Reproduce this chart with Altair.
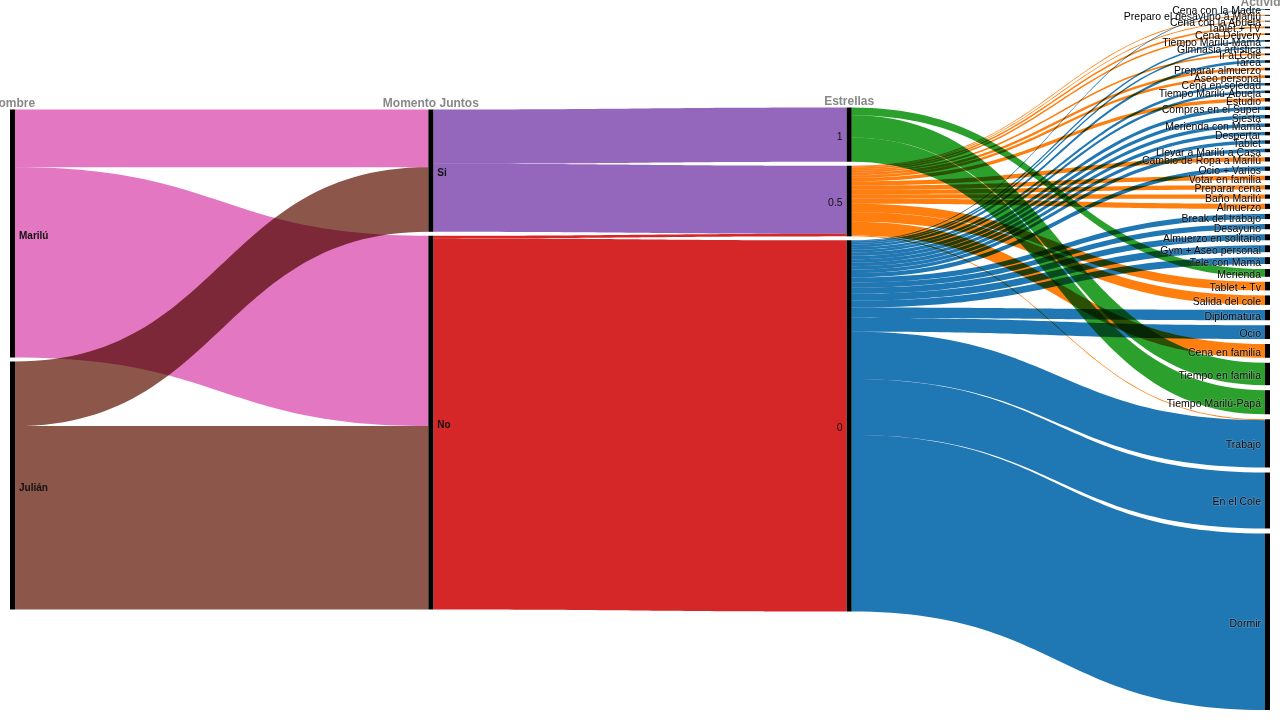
import altair as alt
import pandas as pd
import numpy as np

# ---------------- data ----------------
nombres = ["Marilú", "Julián"]
momentos = ["Si", "No"]
estrellas = ["1", "0.5", "0"]
actividades = [
    "Cena con la Madre", "Preparo el desayuno a Marilú", "Cena con la Abuela", "Tablet + TV",
    "Cena Delivery", "Tiempo Marilú-Mamá", "Gimnasia artística", "Ir al Cole", "Tarea",
    "Preparar almuerzo", "Aseo personal", "Cena en soledad", "Tiempo Marilú-Abuela", "Estudio",
    "Compras en el Super", "Siesta", "Merienda con Mamá", "Despertar", "Tablet",
    "Llevar a Marilú a Casa", "Cambio de Ropa a Marilú", "Ocio + Varios", "Votar en familia",
    "Preparar cena", "Baño Marilú", "Almuerzo", "Break del trabajo", "Desayuno",
    "Almuerzo en solitario", "Gym + Aseo personal", "Tele con Mamá", "Merienda", "Tablet + Tv",
    "Salida del cole", "Diplomatura", "Ocio", "Cena en familia", "Tiempo en familia",
    "Tiempo Marilú-Papá", "Trabajo", "En el Cole", "Dormir",
]
dimensiones = ["Nombre", "Momento Juntos", "Estrellas", "Actividad"]

# Nombre -> Momento Juntos (minutes)
l1_src = ["Marilú", "Marilú", "Julián", "Julián"]
l1_tgt = ["Si", "No", "Si", "No"]
l1_val = [335, 1105, 375, 1065]

# Momento Juntos -> Estrellas
l2_src = ["Si", "Si", "No", "No"]
l2_tgt = ["1", "0.5", "0.5", "0"]
l2_val = [315, 395, 15, 2155]

# Estrellas -> Actividad
l3_src = ["0", "0.5", "0.5", "0.5", "0.5", "0", "0", "0.5", "0", "0.5", "0.5", "0", "0", "0.5",
          "0", "0", "0", "0", "0", "0", "0.5", "0", "0.5", "0.5", "0.5", "0.5", "0", "0",
          "0", "0", "0", "1", "0.5", "0.5", "0", "0", "0.5", "1", "1", "0.5", "0", "0", "0"]
l3_tgt = [
    "Cena con la Madre", "Preparo el desayuno a Marilú", "Cena con la Abuela", "Tablet + TV",
    "Cena Delivery", "Tiempo Marilú-Mamá", "Gimnasia artística", "Ir al Cole", "Tarea",
    "Preparar almuerzo", "Aseo personal", "Cena en soledad", "Tiempo Marilú-Abuela", "Estudio",
    "Compras en el Super", "Siesta", "Merienda con Mamá", "Despertar", "Tablet",
    "Llevar a Marilú a Casa", "Cambio de Ropa a Marilú", "Ocio + Varios", "Votar en familia",
    "Preparar cena", "Baño Marilú", "Almuerzo", "Break del trabajo", "Desayuno",
    "Almuerzo en solitario", "Gym + Aseo personal", "Tele con Mamá", "Merienda", "Tablet + Tv",
    "Salida del cole", "Diplomatura", "Ocio", "Cena en familia", "Tiempo en familia",
    "Tiempo Marilú-Papá", "Trabajo", "Trabajo", "En el Cole", "Dormir",
]
l3_val = [5, 5, 5, 10, 10, 10, 10, 10, 15, 15, 15, 15, 15, 20, 20, 20, 20, 20, 20, 20, 25, 25,
          25, 25, 25, 30, 30, 30, 35, 40, 40, 45, 50, 55, 60, 80, 80, 130, 140, 5, 275, 325, 1025]

node_colors = {"Marilú": "#e377c2", "Julián": "#8c564b", "Si": "#9467bd", "No": "#d62728",
               "1": "#2ca02c", "0.5": "#ff7f0e", "0": "#1f77b4"}

# ---------------- sankey layout ----------------
W, H = 1280, 720
X_LEFT, X_RIGHT, NODE_W = 10, 1270, 5
Y_TOP, Y_BOT = 9, 710
PAD_MAIN, PAD_LAST = 4, 5

columns = [nombres, momentos, estrellas, actividades]
links = []
for s, t, v in zip(l1_src, l1_tgt, l1_val):
    links.append(dict(src=s, tgt=t, val=v))
for s, t, v in zip(l2_src, l2_tgt, l2_val):
    links.append(dict(src=s, tgt=t, val=v))
for s, t, v in zip(l3_src, l3_tgt, l3_val):
    links.append(dict(src=s, tgt=t, val=v))
for i, l in enumerate(links):
    l["id"] = i

node_val = {}
for col in columns:
    for n in col:
        vin = sum(l["val"] for l in links if l["tgt"] == n)
        vout = sum(l["val"] for l in links if l["src"] == n)
        node_val[n] = max(vin, vout)

last = columns[-1]
ky = (Y_BOT - Y_TOP - (len(last) - 1) * PAD_LAST) / sum(node_val[n] for n in last)
mid = (Y_TOP + Y_BOT) / 2

nodes = {}
for ci, col in enumerate(columns):
    x0 = X_LEFT + ci * (X_RIGHT - X_LEFT - NODE_W) / (len(columns) - 1)
    pad = PAD_LAST if ci == len(columns) - 1 else PAD_MAIN
    total = sum(node_val[n] for n in col) * ky + (len(col) - 1) * pad
    y = mid - total / 2
    for n in col:
        h = node_val[n] * ky
        nodes[n] = dict(name=n, col=ci, x0=x0, x1=x0 + NODE_W, y0=y, y1=y + h)
        y += h + pad

# link offsets
for n, nd in nodes.items():
    outs = sorted([l for l in links if l["src"] == n], key=lambda l: (nodes[l["tgt"]]["y0"], l["id"]))
    y = nd["y0"]
    for l in outs:
        l["sy0"] = y
        y += l["val"] * ky
        l["sy1"] = y
    ins = sorted([l for l in links if l["tgt"] == n], key=lambda l: (nodes[l["src"]]["y0"], l["id"]))
    y = nd["y0"]
    for l in ins:
        l["ty0"] = y
        y += l["val"] * ky
        l["ty1"] = y

rows = []
ts = np.linspace(0, 1, 60)
for l in links:
    xs = nodes[l["src"]]["x1"]
    xt = nodes[l["tgt"]]["x0"]
    xm = (xs + xt) / 2
    for t in ts:
        a = (1 - t) ** 3 + 3 * (1 - t) ** 2 * t
        b = 3 * (1 - t) * t ** 2 + t ** 3
        x = (1 - t) ** 3 * xs + 3 * (1 - t) ** 2 * t * xm + 3 * (1 - t) * t ** 2 * xm + t ** 3 * xt
        rows.append(dict(link=l["id"], x=x,
                         ya=l["sy0"] * a + l["ty0"] * b,
                         yb=l["sy1"] * a + l["ty1"] * b,
                         color=node_colors[l["src"]]))
df_links = pd.DataFrame(rows)

df_nodes = pd.DataFrame(list(nodes.values()))
df_nodes["ym"] = (df_nodes["y0"] + df_nodes["y1"]) / 2
df_nodes["lx_r"] = df_nodes["x1"] + 4
df_nodes["lx_l"] = df_nodes["x0"] - 4

head_rows = []
for ci, col in enumerate(columns):
    nd = nodes[col[0]]
    head_rows.append(dict(label=dimensiones[ci], x=(nd["x0"] + nd["x1"]) / 2, y=nd["y0"] - 3))
df_head = pd.DataFrame(head_rows)

# ---------------- chart ----------------
xsc = alt.Scale(domain=[0, W], nice=False, zero=False)
ysc = alt.Scale(domain=[H, 0], nice=False, zero=False)
FONT = "Liberation Sans"

link_layer = alt.Chart(df_links).mark_area(blend="multiply", interpolate="linear").encode(
    x=alt.X("x:Q", scale=xsc, axis=None),
    y=alt.Y("ya:Q", scale=ysc, axis=None, stack=None),
    y2="yb:Q",
    color=alt.Color("color:N", scale=None),
    detail="link:N",
)

node_layer = alt.Chart(df_nodes).mark_rect(color="#000000").encode(
    x=alt.X("x0:Q", scale=xsc, axis=None), x2="x1:Q",
    y=alt.Y("y0:Q", scale=ysc, axis=None), y2="y1:Q",
)

left_df = df_nodes[df_nodes["col"] < 2]
mid_df = df_nodes[df_nodes["col"] == 2]
act_df = df_nodes[df_nodes["col"] == 3]

lab_left = alt.Chart(left_df).mark_text(
    align="left", baseline="middle", dy=2, font=FONT, fontSize=10, fontWeight="bold", color="#111111"
).encode(x=alt.X("lx_r:Q", scale=xsc, axis=None), y=alt.Y("ym:Q", scale=ysc, axis=None), text="name:N")

lab_mid = alt.Chart(mid_df).mark_text(
    align="right", baseline="middle", dy=2, font=FONT, fontSize=10.5, color="#111111"
).encode(x=alt.X("lx_l:Q", scale=xsc, axis=None), y=alt.Y("ym:Q", scale=ysc, axis=None), text="name:N")

lab_act_halo = alt.Chart(act_df).mark_text(
    align="right", baseline="middle", dy=2, font=FONT, fontSize=10.5, stroke="#ffffff", strokeWidth=1.5,
    strokeOpacity=0.4, color="#ffffff", opacity=0.4
).encode(x=alt.X("lx_l:Q", scale=xsc, axis=None), y=alt.Y("ym:Q", scale=ysc, axis=None), text="name:N")

lab_act = alt.Chart(act_df).mark_text(
    align="right", baseline="middle", dy=2, font=FONT, fontSize=10.5, color="#000000"
).encode(x=alt.X("lx_l:Q", scale=xsc, axis=None), y=alt.Y("ym:Q", scale=ysc, axis=None), text="name:N")

headers = alt.Chart(df_head).mark_text(
    align="center", baseline="alphabetic", font=FONT, fontSize=12, fontWeight="bold", color="#888888"
).encode(x=alt.X("x:Q", scale=xsc, axis=None), y=alt.Y("y:Q", scale=ysc, axis=None), text="label:N")

chart = alt.layer(link_layer, node_layer, lab_left, lab_mid, lab_act_halo, lab_act, headers).properties(
    width=W, height=H, padding=0, autosize=alt.AutoSizeParams(type="none"), background="white"
).configure_view(stroke=None)

chart.save("out.html", embed_options={"renderer": "svg", "actions": False})
